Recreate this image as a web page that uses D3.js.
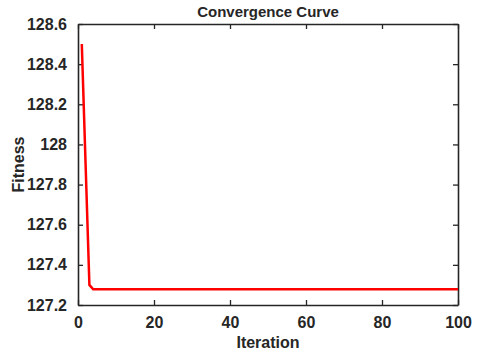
<!DOCTYPE html>
<html>
<head>
<meta charset="utf-8">
<script src="https://cdn.jsdelivr.net/npm/d3@7"></script>
<style>
  body { margin: 0; background: #fff; }
  text { font-family: "Liberation Sans", Arial, sans-serif; font-weight: bold; fill: #262626; }
</style>
</head>
<body>
<div id="chart"></div>
<script>
// convergence data: iteration 1..100
const iterations = d3.range(1, 101);
const headValues = [128.5, 127.9, 127.3];
const plateauValue = 127.278;
const fitness = iterations.map((it, i) => i < headValues.length ? headValues[i] : plateauValue);
const xTicks = [0, 20, 40, 60, 80, 100];
const yTicks = [127.2, 127.4, 127.6, 127.8, 128, 128.2, 128.4, 128.6];

const W = 480, H = 356;
const margin = { top: 24, right: 22, bottom: 51, left: 78 };
const width = W - margin.left - margin.right,
      height = H - margin.top - margin.bottom;

const svg = d3.select("#chart").append("svg")
    .attr("width", W).attr("height", H);
const g = svg.append("g")
    .attr("transform", `translate(${margin.left},${margin.top})`);

const x = d3.scaleLinear().domain([0, 100]).range([0, width]);
const y = d3.scaleLinear().domain([127.2, 128.6]).range([height, 0]);

const tickLen = 5;
const axisColor = "#262626";

// bottom axis
const xAxis = g.append("g")
    .attr("transform", `translate(0,${height})`)
    .call(d3.axisBottom(x).tickValues(xTicks).tickFormat(d3.format("d"))
        .tickSizeInner(-tickLen).tickSizeOuter(0).tickPadding(12));
// top axis (ticks only)
const xTop = g.append("g")
    .call(d3.axisTop(x).tickValues(xTicks).tickFormat("")
        .tickSizeInner(-tickLen).tickSizeOuter(0));
// left axis
const yAxis = g.append("g")
    .call(d3.axisLeft(y).tickValues(yTicks).tickFormat(d => d3.format("")(+d.toFixed(1)))
        .tickSizeInner(-tickLen).tickSizeOuter(0).tickPadding(11));
// right axis (ticks only)
const yRight = g.append("g")
    .attr("transform", `translate(${width},0)`)
    .call(d3.axisRight(y).tickValues(yTicks).tickFormat("")
        .tickSizeInner(-tickLen).tickSizeOuter(0));

[xAxis, xTop, yAxis, yRight].forEach(a => {
    a.select(".domain").attr("stroke", axisColor).attr("stroke-width", 1.6);
    a.selectAll(".tick line").attr("stroke", axisColor).attr("stroke-width", 1.3);
    a.selectAll("text").style("font-size", "16px").attr("fill", axisColor);
});

// curve
const line = d3.line()
    .x((d, i) => x(iterations[i]))
    .y(d => y(d));
g.append("path")
    .datum(fitness)
    .attr("fill", "none")
    .attr("stroke", "#ff0000")
    .attr("stroke-width", 2.5)
    .attr("d", line);

// title and labels
svg.append("text")
    .attr("x", margin.left + width / 2).attr("y", 17)
    .attr("text-anchor", "middle")
    .style("font-size", "15px")
    .text("Convergence Curve");
svg.append("text")
    .attr("x", margin.left + width / 2).attr("y", 348)
    .attr("text-anchor", "middle")
    .style("font-size", "16px")
    .text("Iteration");
svg.append("text")
    .attr("transform", `translate(24,${margin.top + height / 2}) rotate(-90)`)
    .attr("text-anchor", "middle")
    .style("font-size", "16px")
    .text("Fitness");
</script>
</body>
</html>
